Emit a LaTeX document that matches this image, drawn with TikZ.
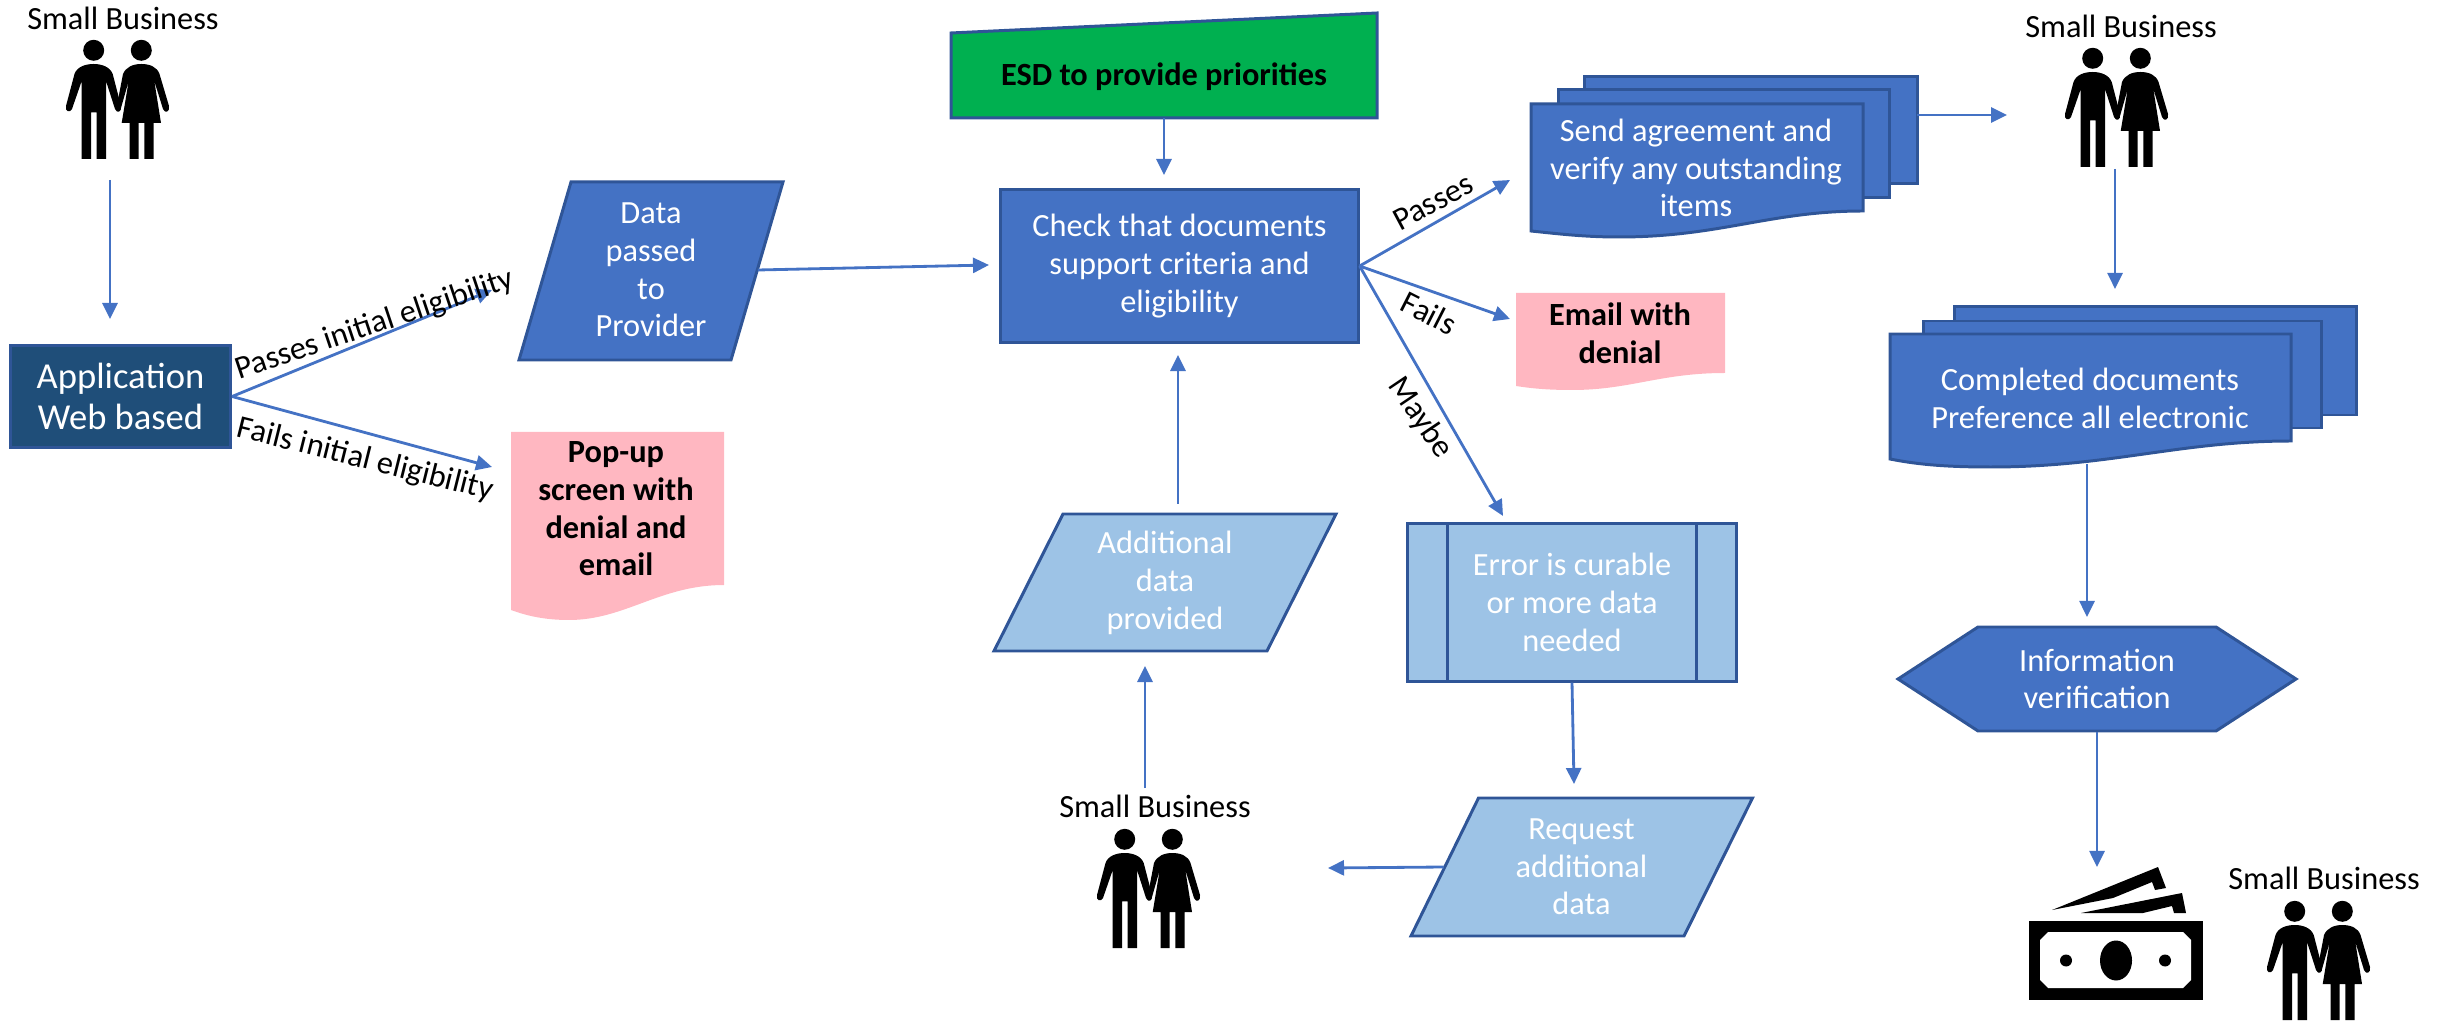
\documentclass[tikz,border=0pt]{standalone}
\usepackage{fontspec}
\setmainfont{Carlito}
\usepackage{xcolor}
\usepackage{tikz}
\usetikzlibrary{positioning,calc,arrows.meta}

\definecolor{boxblue}{HTML}{4472C4}
\definecolor{boxedge}{HTML}{2F5597}
\definecolor{boxlight}{HTML}{9DC3E6}
\definecolor{boxnavy}{HTML}{1F4E79}
\definecolor{denial}{HTML}{FFB7C1}
\definecolor{esdgreen}{HTML}{00B050}

\tikzset{
	flow/.style={-{Stealth[inset=0pt,length=.16cm,width=.15cm]}, draw=boxblue, line width=.8pt},
	bluebox/.style={draw=boxedge, fill=boxblue, line width=.85pt},
	lightbox/.style={draw=boxedge, fill=boxlight, line width=.85pt},
	txt/.style={align=center, inner sep=0pt, font=\fontsize{9.2}{10.7}\selectfont},
	whitetxt/.style={txt, text=white},
	boldtxt/.style={txt, font=\fontsize{9.2}{10.7}\selectfont\bfseries},
	person/.pic={
		\fill (27.7,10.3) circle [radius=10.5];
		\fill (75.3,10.3) circle [radius=10.5];
		\fill[line join=round] (27.7,24) .. controls (36,24) and (44,27) .. (46.7,34) -- (55,66) .. controls (56,72) and (51,74) .. (49,69) -- (40,41) -- (40,119) -- (30.7,119) -- (30.7,72.3) -- (25,72.3) -- (25,119) -- (15.7,119) -- (15.7,41) -- (6,69) .. controls (4,73) and (-1,72) .. (0,66) -- (8.5,34) .. controls (11,27) and (19,24) .. (27.7,24) -- cycle;
		\fill[line join=round] (75.3,24) .. controls (84,24) and (91,27) .. (93.5,34) -- (103,66) .. controls (104,72) and (99,74) .. (97,69) -- (88.3,41) -- (95,83) -- (87.7,83) -- (87.7,119) -- (78.3,119) -- (78.3,83) -- (72.7,83) -- (72.7,119) -- (63.7,119) -- (63.7,83) -- (55.7,83) -- (62.7,41) -- (55,68) -- (52,60) -- (57,34) .. controls (60,27) and (67,24) .. (75.3,24) -- cycle;
	}
}

\begin{document}
\begin{tikzpicture}[x=.01cm, y=-.01cm]
	\useasboundingbox (0,0) rectangle (2446,1022);

	\node [txt] (sb1) at (123,18.5) {Small Business};
	\pic at (66,40) {person};
	\node [txt] (sb2) at (2121,26) {Small Business};
	\pic at (2065,48) {person};
	\node [txt] (sb3) at (1155,806) {Small Business};
	\pic at (1097,829) {person};
	\node [txt] (sb4) at (2324,878) {Small Business};
	\pic at (2267,901) {person};

	\node [rectangle, draw=boxedge, fill=boxnavy, line width=.85pt, minimum width=2.2cm, minimum height=1.01cm, text=white, align=center, inner sep=0pt, font=\fontsize{10.4}{12.5}\selectfont] (app) at (120.5,396.5) {Application\\[-1pt]Web based};

	\draw[bluebox] (571,182) -- (783,182) -- (731,360) -- (519,360) -- cycle;
	\node [whitetxt, minimum width=2.12cm, minimum height=1.78cm] (data) at (651,270) {Data\\passed\\to\\Provider};

	\fill[denial] (511,432) -- (724,432) -- (724,585) .. controls (660,585) and (625,620) .. (569,620) .. controls (548,620) and (530,617) .. (511,610) -- cycle;
	\node [boldtxt] (popup) at (616,509) {Pop-up\\screen with\\denial and\\email};

	\draw[draw=boxedge, fill=esdgreen, line width=.85pt] (951,33) -- (1377,13) -- (1377,118) -- (951,118) -- cycle;
	\node [boldtxt, minimum width=4.26cm] (esd) at (1164,77) {ESD to provide priorities};
	\coordinate (esdbot) at (1164,118);

	\node [rectangle, bluebox, minimum width=3.57cm, minimum height=1.53cm, whitetxt] (chk) at (1179.5,266) {Check that documents\\support criteria and\\eligibility};

	\draw[bluebox] (1584,77) rectangle (1917,184);
	\draw[bluebox] (1558,90) rectangle (1889,198);
	\draw[bluebox] (1531,104) -- (1863,104) -- (1863,211) .. controls (1770,211) and (1720,237) .. (1619,237) .. controls (1585,237) and (1560,234) .. (1531,231) -- cycle;
	\node [whitetxt] (send) at (1696,168) {Send agreement and\\verify any outstanding\\items};

	\fill[denial] (1516,293) -- (1725,293) -- (1725,373) .. controls (1660,373) and (1630,390) .. (1572,390) .. controls (1552,390) and (1535,389) .. (1516,386) -- cycle;
	\node [boldtxt] (email) at (1620,333) {Email with\\denial};

	\draw[bluebox] (1954,307) rectangle (2356,415);
	\draw[bluebox] (1923,321) rectangle (2321,428);
	\draw[bluebox] (1890,334) -- (2291,334) -- (2291,441) .. controls (2180,441) and (2110,467) .. (1991,467) .. controls (1950,467) and (1920,465) .. (1890,459) -- cycle;
	\node [whitetxt] (compl) at (2090,398.5) {Completed documents\\Preference all electronic};

	\draw[bluebox] (1898,679) -- (1978,627) -- (2216,627) -- (2296,679) -- (2216,731) -- (1978,731) -- cycle;
	\node [whitetxt, minimum width=3.98cm, minimum height=1.04cm] (info) at (2097,679) {Information\\verification};

	\draw[lightbox] (1063,514) -- (1336,514) -- (1267,651) -- (994,651) -- cycle;
	\node [whitetxt, minimum width=2.73cm, minimum height=1.37cm] (add) at (1165,583) {Additional\\data\\provided};

	\node [rectangle, lightbox, minimum width=3.29cm, minimum height=1.57cm, whitetxt] (err) at (1572,602.5) {Error is curable\\or more data\\needed};
	\draw[draw=boxedge, line width=.85pt] ([xshift=.415cm]err.north west) -- ([xshift=.415cm]err.south west);
	\draw[draw=boxedge, line width=.85pt] ([xshift=-.42cm]err.north east) -- ([xshift=-.42cm]err.south east);

	\draw[lightbox] (1478.5,798) -- (1752.5,798) -- (1684,936) -- (1411,936) -- cycle;
	\node [whitetxt, minimum width=2.74cm, minimum height=1.38cm] (req) at (1581.5,867) {Request\\additional\\data};

	\node [fill=black, minimum width=1.74cm, minimum height=.79cm, inner sep=0pt] (cash) at (2116,960.5) {};
	\fill[white] (2048,932) -- (2183,932) -- (2191,940) -- (2191,980) -- (2183,988) -- (2048,988) -- (2040,980) -- (2040,940) -- cycle;
	\fill (cash.center) ellipse [x radius=16, y radius=20];
	\fill (2066,960.5) circle [radius=6];
	\fill (2165,960.5) circle [radius=6];
	\fill (2052,910) -- (2158,867) -- (2166,888) -- (2155,890) -- (2152,882) -- (2113,898) -- cycle;
	\fill (2081,913) -- (2182,893) -- (2186,913) -- (2174,913) -- (2172,906) -- (2143,913) -- cycle;

	\coordinate (sb1o) at (110,180);
	\coordinate (appin) at (110,319);
	\coordinate (datain) at (492,290);
	\coordinate (popupin) at (492,467);
	\coordinate (chkin) at (989,265);
	\coordinate (esdo) at (1164,175);
	\coordinate (sendin) at (1510,180);
	\coordinate (emailin) at (1510,319);
	\coordinate (errin) at (1503,516);
	\coordinate (sendo) at (1917,115);
	\coordinate (sb2in) at (2007,115);
	\coordinate (sb2o) at (2115,169);
	\coordinate (complin) at (2115,289);
	\coordinate (complo) at (2087,464);
	\coordinate (infoin) at (2087,617);
	\coordinate (cashin) at (2097,867);
	\coordinate (addo) at (1178,504);
	\coordinate (chkbot) at (1178,355);
	\coordinate (reqin) at (1574,784);
	\coordinate (sb3in) at (1328,868);
	\coordinate (sb3o) at (1145,788);
	\coordinate (addin) at (1145,666);

	\draw[flow] (sb1o)--(appin);
	\draw[flow] (app.east)--(datain);
	\draw[flow] (app.east)--(popupin);
	\draw[flow] (data.east)--(chkin);
	\draw[flow] (esdbot)--(esdo);
	\draw[flow] (chk.east)--(sendin);
	\draw[flow] (chk.east)--(emailin);
	\draw[flow] (chk.east)--(errin);
	\draw[flow] (sendo)--(sb2in);
	\draw[flow] (sb2o)--(complin);
	\draw[flow] (complo)--(infoin);
	\draw[flow] (info.south)--(cashin);
	\draw[flow] (addo)--(chkbot);
	\draw[flow] (err.south)--(reqin);
	\draw[flow] (req.west)--(sb3in);
	\draw[flow] (sb3o)--(addin);

	\node [txt, rotate=18.5] (passinit) at (375,325) {Passes initial eligibility};
	\node [txt, rotate=-14] (failinit) at (365,460) {Fails initial eligibility};
	\node [txt, rotate=28] (passes) at (1433,202) {Passes};
	\node [txt, rotate=-27] (fails) at (1429,313) {Fails};
	\node [txt, rotate=-56] (maybe) at (1420,418) {Maybe};
\end{tikzpicture}
\end{document}
